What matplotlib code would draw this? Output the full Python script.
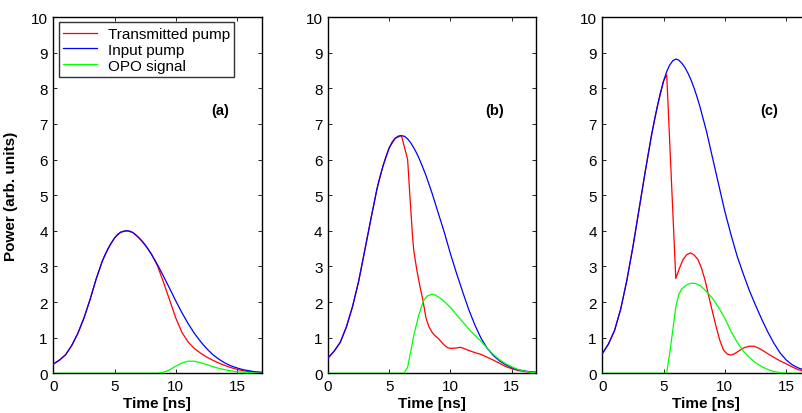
# OPO pump depletion, three pump energies

import numpy as np
import matplotlib.pyplot as plt

plt.rcParams['font.family'] = ['Liberation Sans', 'DejaVu Sans']

# time grid for the input pulses (finer round the peak)
t_in = [0, 0.5, 1, 1.5, 2, 2.5, 3, 3.5, 4, 4.25, 4.5, 4.75, 5, 5.25, 5.5, 5.75,
        6, 6.25, 6.5, 6.75, 7, 7.25, 7.5, 7.75, 8, 8.5, 9, 9.5, 10, 10.5, 11,
        11.5, 12, 12.5, 13, 13.5, 14, 14.5, 15, 15.5, 16, 16.5, 17]

# ---- panel (a)
input_a = [0.26, 0.37, 0.52, 0.78, 1.12, 1.55, 2.07, 2.65, 3.15, 3.35, 3.52, 3.67,
           3.8, 3.9, 3.96, 3.99, 4.0, 3.99, 3.95, 3.88, 3.8, 3.71, 3.6, 3.48,
           3.35, 3.05, 2.72, 2.38, 2.03, 1.7, 1.4, 1.13, 0.9, 0.7, 0.53, 0.4,
           0.29, 0.21, 0.15, 0.1, 0.07, 0.04, 0.03]
t_trans_a = [0, 0.5, 1, 1.5, 2, 2.5, 3, 3.5, 4, 4.5, 5, 5.5, 6, 6.5, 7, 7.5, 8,
             8.5, 9, 9.5, 10, 10.5, 11, 11.5, 12, 12.5, 13, 13.5, 14, 14.5, 15,
             15.5, 16, 16.5, 17]
trans_a = [0.26, 0.37, 0.52, 0.78, 1.12, 1.55, 2.07, 2.65, 3.15, 3.52, 3.8, 3.96,
           4.0, 3.95, 3.8, 3.6, 3.35, 3.02, 2.55, 2.05, 1.55, 1.15, 0.88, 0.7,
           0.57, 0.46, 0.37, 0.29, 0.22, 0.16, 0.11, 0.07, 0.05, 0.03, 0.02]
t_signal_a = [0, 8.5, 9, 9.5, 10, 10.5, 11, 11.5, 12, 12.5, 13, 13.5, 14, 14.5,
              15, 15.5, 16, 16.5, 17]
signal_a = [0, 0, 0.03, 0.1, 0.2, 0.29, 0.34, 0.34, 0.3, 0.25, 0.19, 0.14, 0.1,
            0.07, 0.04, 0.03, 0.02, 0.01, 0.0]

# ---- panel (b)
input_b = [0.43, 0.62, 0.87, 1.3, 1.87, 2.58, 3.45, 4.33, 5.18, 5.53, 5.83, 6.1,
           6.33, 6.5, 6.6, 6.66, 6.67, 6.65, 6.58, 6.47, 6.33, 6.17, 5.98, 5.77,
           5.55, 5.05, 4.5, 3.95, 3.35, 2.8, 2.28, 1.78, 1.35, 0.98, 0.7, 0.5,
           0.35, 0.24, 0.16, 0.1, 0.07, 0.04, 0.03]
t_trans_b = [0, 0.5, 1, 1.5, 2, 2.5, 3, 3.5, 4, 4.5, 5, 5.5, 6, 6.5, 6.7, 6.9, 7.0,
             7.25, 7.5, 7.75, 8.0, 8.25, 8.5, 8.75, 9.0, 9.25, 9.5, 9.75, 10, 10.5,
             10.8, 11.0, 11.5, 12.0, 12.5, 13.0, 13.5, 14, 14.5, 15, 15.5, 16,
             16.5, 17]
trans_b = [0.43, 0.62, 0.87, 1.3, 1.87, 2.58, 3.45, 4.33, 5.18, 5.83, 6.33, 6.6,
           6.67, 6.0, 4.9, 3.85, 3.45, 2.9, 2.45, 2.05, 1.55, 1.3, 1.15, 1.05,
           0.98, 0.88, 0.79, 0.72, 0.70, 0.71, 0.73, 0.71, 0.64, 0.58, 0.53,
           0.45, 0.37, 0.28, 0.19, 0.13, 0.08, 0.05, 0.03, 0.02]
t_signal_b = [0, 6.2, 6.5, 6.75, 7.0, 7.4, 7.8, 8.1, 8.5, 8.75, 9.2, 9.6, 10.0,
              10.4, 10.8, 11.2, 11.6, 12.0, 12.5, 13.0, 13.5, 14.0, 14.5, 15.0,
              15.5, 16.0, 16.5, 17]
signal_b = [0, 0, 0.17, 0.6, 1.06, 1.62, 2.04, 2.17, 2.22, 2.2, 2.1, 1.98, 1.85,
            1.68, 1.52, 1.36, 1.2, 1.06, 0.9, 0.7, 0.53, 0.38, 0.27, 0.18, 0.11,
            0.06, 0.03, 0.01]

# ---- panel (c)
input_c = [0.55, 0.82, 1.2, 1.8, 2.6, 3.55, 4.6, 5.65, 6.65, 7.1, 7.5, 7.88,
           8.2, 8.46, 8.65, 8.77, 8.82, 8.79, 8.7, 8.58, 8.42, 8.23, 8.0, 7.74,
           7.45, 6.8, 6.05, 5.3, 4.55, 3.9, 3.3, 2.8, 2.33, 1.92, 1.53, 1.17,
           0.85, 0.58, 0.38, 0.24, 0.15, 0.09, 0.06]
t_trans_c = [0, 0.5, 1, 1.5, 2, 2.5, 3, 3.5, 4, 4.5, 5, 5.26, 6.0, 6.3, 6.6, 6.9,
             7.2, 7.5, 7.8, 8.1, 8.4, 8.7, 9.0, 9.3, 9.6, 9.9, 10.2, 10.5, 10.8,
             11.2, 11.6, 12.0, 12.4, 12.8, 13.2, 13.6, 14.0, 14.5, 15.0, 15.5,
             16, 16.5, 17]
trans_c = [0.55, 0.82, 1.2, 1.8, 2.6, 3.55, 4.6, 5.65, 6.65, 7.5, 8.2, 8.38,
           2.66, 2.95, 3.2, 3.33, 3.38, 3.32, 3.2, 2.95, 2.6, 2.15, 1.72, 1.3,
           0.92, 0.65, 0.54, 0.51, 0.55, 0.64, 0.72, 0.76, 0.76, 0.7, 0.62,
           0.53, 0.45, 0.35, 0.27, 0.18, 0.1, 0.06, 0.04]
t_signal_c = [0, 5.25, 5.5, 5.75, 6.0, 6.25, 6.5, 7.0, 7.3, 7.6, 8.0, 8.5, 9.0,
              9.5, 10.0, 10.5, 11.0, 11.5, 12.0, 12.5, 13.0, 13.5, 14.0, 14.5,
              15, 17]
signal_c = [0, 0, 0.55, 1.2, 1.85, 2.22, 2.38, 2.5, 2.53, 2.52, 2.46, 2.3, 2.1,
            1.85, 1.55, 1.18, 0.88, 0.63, 0.45, 0.3, 0.19, 0.11, 0.05, 0.02,
            0, 0]

panels = [
    ('(a)', t_trans_a, trans_a, input_a, t_signal_a, signal_a),
    ('(b)', t_trans_b, trans_b, input_b, t_signal_b, signal_b),
    ('(c)', t_trans_c, trans_c, input_c, t_signal_c, signal_c),
]

fig = plt.figure(figsize=(8.02, 4.14), dpi=100)
lefts = [0.0665, 0.409, 0.751]
for i, (tag, tt, yt, yi, ts, ys) in enumerate(panels):
    ax = fig.add_axes([lefts[i], 0.0959, 0.2596, 0.8606])
    ax.plot(tt, yt, color='#ff0000', lw=0.9, label='Transmitted pump', zorder=3)
    ax.plot(t_in, yi, color='#0000ff', lw=0.9, label='Input pump', zorder=3)
    ax.plot(ts, ys, color='#00ff00', lw=0.9, label='OPO signal', zorder=3)
    ax.set_xlim(0, 17)
    ax.set_ylim(0, 10)
    ax.set_xticks([0, 5, 10, 15])
    ax.set_yticks(range(11))
    ax.tick_params(direction='in', top=True, right=True, length=3, width=0.6,
                   labelsize=11, pad=4)
    for s in ax.spines.values():
        s.set_linewidth(1.0)
    ax.set_xlabel('Time [ns]', fontsize=11, fontweight='bold', labelpad=2)
    ax.text(13.6, 7.4, tag, fontsize=10.5, fontweight='bold', ha='center', va='center')
    if i == 0:
        ax.set_ylabel('Power (arb. units)', fontsize=11, fontweight='bold', labelpad=9)
        leg = ax.legend(loc='upper left', fontsize=11, frameon=True, fancybox=False,
                        edgecolor='black', borderpad=0.3, labelspacing=0.12,
                        handlelength=2.2, handletextpad=0.7,
                        bbox_to_anchor=(0.0, 1.0), borderaxespad=0.35)
        leg.get_frame().set_linewidth(1.0)

fig.savefig('out.png', dpi=100)
